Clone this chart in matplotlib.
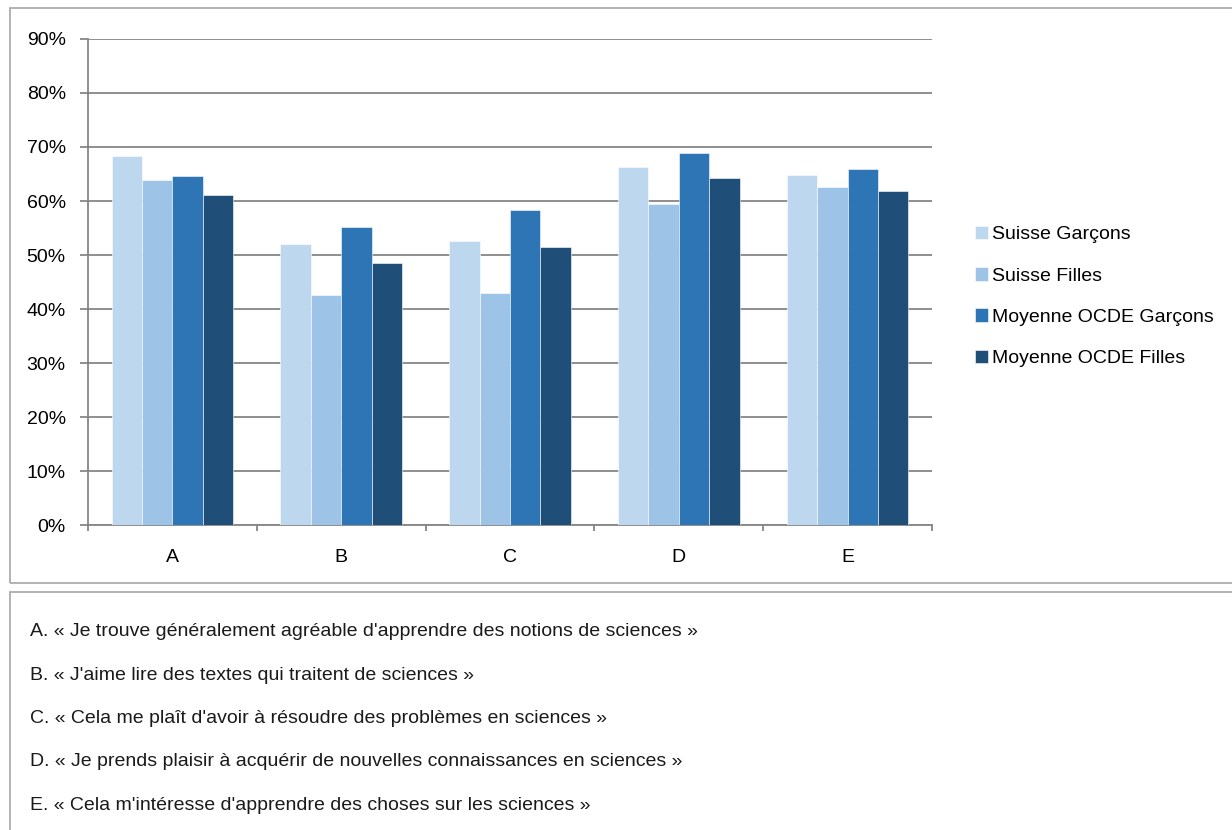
import numpy as np
import matplotlib.pyplot as plt
from matplotlib.patches import Rectangle

plt.rcParams['font.family'] = ['Liberation Sans', 'DejaVu Sans']

# donnees
categories = ['A', 'B', 'C', 'D', 'E']
series_names = ['Suisse Garçons', 'Suisse Filles', 'Moyenne OCDE Garçons', 'Moyenne OCDE Filles']
suisse_garcons = [68.3, 52.0, 52.5, 66.3, 64.8]
suisse_filles = [63.9, 42.5, 43.0, 59.5, 62.5]
ocde_garcons = [64.6, 55.1, 58.3, 68.8, 65.9]
ocde_filles = [61.2, 48.6, 51.4, 64.3, 61.9]
colors = ['#BDD7EE', '#9DC3E6', '#2E75B6', '#1F4E79']

statements = [
    "A. « Je trouve généralement agréable d'apprendre des notions de sciences »",
    "B. « J'aime lire des textes qui traitent de sciences »",
    "C. « Cela me plaît d'avoir à résoudre des problèmes en sciences »",
    "D. « Je prends plaisir à acquérir de nouvelles connaissances en sciences »",
    "E. « Cela m'intéresse d'apprendre des choses sur les sciences »",
]

W, H = 1232, 830
fig = plt.figure(figsize=(W / 100, H / 100), dpi=100)

# cadres
def px_rect(x0, y0, x1, y1):
    return Rectangle((x0 / W, 1 - y1 / H), (x1 - x0) / W, (y1 - y0) / H,
                     transform=fig.transFigure, fill=False,
                     edgecolor='#a6a6a6', linewidth=1.2)

fig.patches.append(px_rect(10, 8, 1240, 583))
fig.patches.append(px_rect(10, 592, 1240, 840))

ax = fig.add_axes([88 / W, 1 - 525 / H, (932 - 88) / W, (525 - 39) / H])

series = [suisse_garcons, suisse_filles, ocde_garcons, ocde_filles]
x = np.arange(len(categories))
bw = 0.18
for i, (vals, name, c) in enumerate(zip(series, series_names, colors)):
    ax.bar(x + (i - 1.5) * bw, vals, bw, color=c, label=name,
           edgecolor='white', linewidth=0.4, zorder=3)

ax.set_xlim(-0.5, len(categories) - 0.5)
ax.set_ylim(0, 90)
ax.set_yticks(np.arange(0, 91, 10))
ax.set_yticklabels([f'{v}%' for v in range(0, 91, 10)], fontsize=14)
ax.grid(axis='y', color='#868686', linewidth=1.3, zorder=0)

ax.set_xticks(x)
ax.set_xticklabels(categories, fontsize=14)
ax.set_xticks(np.arange(-0.5, len(categories)), minor=True)
ax.tick_params(axis='x', which='major', length=0, pad=17)
ax.tick_params(axis='x', which='minor', length=4, color='#868686', width=1.3)
ax.tick_params(axis='y', length=6, color='#868686', width=1.3, pad=10)

for s in ['top', 'right']:
    ax.spines[s].set_visible(False)
for s in ['left', 'bottom']:
    ax.spines[s].set_color('#868686')
    ax.spines[s].set_linewidth(1.3)

ax.legend(loc='center left', bbox_to_anchor=(1.03, 0.47), frameon=False,
          fontsize=14, handlelength=0.7, handleheight=0.7, handletextpad=0.2,
          labelspacing=1.22)

# libelles des items
for k, txt in enumerate(statements):
    fig.text(30 / W, 1 - (632 + 43.3 * k) / H, txt, fontsize=14,
             va='center', ha='left', color='#1a1a1a')

fig.savefig('out.png', dpi=100)
